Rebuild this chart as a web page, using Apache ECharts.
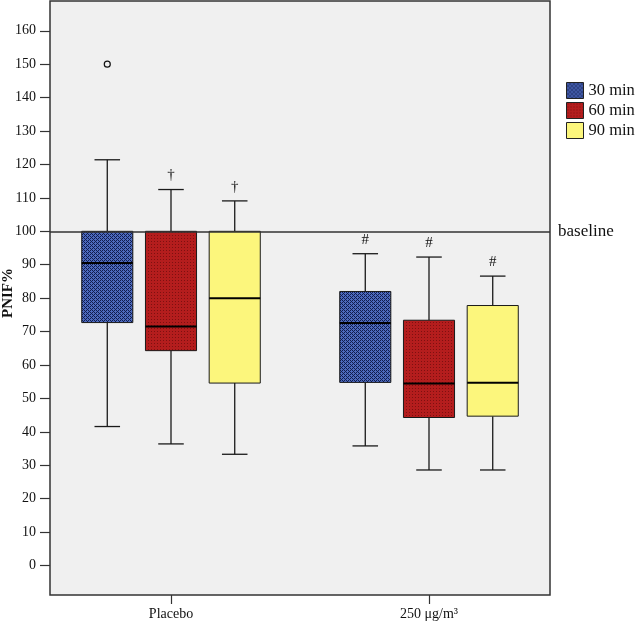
<!DOCTYPE html>
<html><head><meta charset="utf-8">
<script src="https://cdn.jsdelivr.net/npm/echarts@6/dist/echarts.min.js"></script>
<style>html,body{margin:0;padding:0;background:#fff}#c{width:638px;height:625px}</style>
</head><body><div id="c"></div>
<script>
// ---------- data ----------
const categories = ['Placebo', '250 μg/m³'];
const seriesNames = ['30 min', '60 min', '90 min'];
// each row: [min, Q1, median, Q3, max] for Placebo, 250 μg/m³
const box30 = [[41.6, 72.7, 90.5, 100, 121.4], [35.8, 54.8, 72.6, 82.0, 93.3]];
const box60 = [[36.4, 64.3, 71.5, 100, 112.5], [28.6, 44.3, 54.5, 73.4, 92.3]];
const box90 = [[33.3, 54.6, 80.0, 100, 109.1], [28.6, 44.7, 54.7, 77.8, 86.6]];
// outliers: [categoryIndex, seriesIndex, value]
const outliers = [[0, 0, 150]];
// significance marks above the whiskers
const marks30 = ['', '#'];
const marks60 = ['†', '#'];
const marks90 = ['†', '#'];
const yTicks = [0, 10, 20, 30, 40, 50, 60, 70, 80, 90, 100, 110, 120, 130, 140, 150, 160];
const xTicks = [0, 1];
const baselineValue = 100;

// ---------- styles ----------
const FONT = '"Liberation Serif", "Times New Roman", serif';
function makePattern(w, h, bg, fg, pts) {
  const cv = document.createElement('canvas');
  cv.width = w; cv.height = h;
  const ctx = cv.getContext('2d');
  ctx.fillStyle = bg; ctx.fillRect(0, 0, w, h);
  ctx.fillStyle = fg;
  pts.forEach(p => ctx.fillRect(p[0], p[1], 1, 1));
  return { image: cv, repeat: 'repeat' };
}
const bluePat = makePattern(4, 4, '#111d50', '#4d6abd',
  [[1,0],[0,1],[1,1],[2,1],[1,2],[3,3],[2,3],[0,3],[3,2],[3,0]]);
const redPat = makePattern(3, 3, '#b41d1d', '#7e1010', [[1,1]]);
const fills = [bluePat, redPat, '#fcf67c'];
const boxes = [box30, box60, box90];
const marks = [marks30, marks60, marks90];
const GROUP_OFFSET = 0.247;   // fraction of x unit between boxes
const BOX_HALF = 0.099;       // half box width, fraction of x unit

function renderBox(params, api) {
  const k = params.seriesIndex;
  const cat = api.value(0);
  const unit = api.size([1, 0])[0];
  const cx = api.coord([cat, 0])[0] + (k - 1) * GROUP_OFFSET * unit;
  const half = BOX_HALF * unit;
  const cap = half / 2;
  const py = i => api.coord([cat, api.value(i)])[1];
  const yMin = py(1), yQ1 = py(2), yMed = py(3), yQ3 = py(4), yMax = py(5);
  const ls = { stroke: '#1a1a1a', lineWidth: 1.3 };
  const children = [
    { type: 'line', shape: { x1: cx, y1: yMax, x2: cx, y2: yQ3 }, style: ls },
    { type: 'line', shape: { x1: cx, y1: yQ1, x2: cx, y2: yMin }, style: ls },
    { type: 'line', shape: { x1: cx - cap, y1: yMax, x2: cx + cap, y2: yMax }, style: ls },
    { type: 'line', shape: { x1: cx - cap, y1: yMin, x2: cx + cap, y2: yMin }, style: ls },
    { type: 'rect', shape: { x: cx - half, y: yQ3, width: 2 * half, height: yQ1 - yQ3 },
      style: { fill: fills[k], stroke: '#1a1a1a', lineWidth: 1 } },
    { type: 'line', shape: { x1: cx - half, y1: yMed, x2: cx + half, y2: yMed },
      style: { stroke: '#000', lineWidth: 2 } }
  ];
  const m = marks[k][params.dataIndex];
  if (m) {
    children.push({ type: 'text', style: { text: m, x: cx, y: yMax - 14, align: 'center',
      verticalAlign: 'middle', font: '15px ' + FONT, fill: '#111' } });
  }
  return { type: 'group', children };
}

function renderOutlier(params, api) {
  const cat = api.value(0), k = api.value(1);
  const unit = api.size([1, 0])[0];
  const p = api.coord([cat, api.value(2)]);
  return { type: 'circle', shape: { cx: p[0] + (k - 1) * GROUP_OFFSET * unit, cy: p[1], r: 3 },
    style: { fill: 'none', stroke: '#111', lineWidth: 1.2 } };
}

const series = boxes.map((b, k) => ({
  name: seriesNames[k],
  type: 'custom',
  renderItem: renderBox,
  itemStyle: { color: fills[k] },
  encode: { x: 0, y: [1, 2, 3, 4, 5] },
  data: b.map((row, i) => [i].concat(row)),
  z: 3
}));
series.push({
  name: 'outliers', type: 'custom', renderItem: renderOutlier,
  encode: { x: 0, y: 2 }, data: outliers, z: 4
});
series.push({
  name: 'baseline', type: 'line', data: [], z: 2,
  markLine: {
    silent: true, symbol: 'none', animation: false,
    data: [{ yAxis: baselineValue }],
    lineStyle: { color: '#333', width: 1.5, type: 'solid' },
    label: { position: 'end', formatter: 'baseline', fontFamily: FONT, fontSize: 17,
      color: '#111', distance: 8 }
  }
});

const chart = echarts.init(document.getElementById('c'));
chart.setOption({
  animation: false,
  backgroundColor: '#fff',
  grid: { left: 50, top: 1, right: 88, bottom: 30, show: true, containLabel: false,
    outerBoundsMode: 'none',
    backgroundColor: '#f0f0f0', borderColor: '#333', borderWidth: 1.5 },
  legend: {
    data: seriesNames, orient: 'vertical', left: 566, top: 82, padding: 0,
    itemWidth: 17, itemHeight: 16, itemGap: 3, icon: 'rect',
    textStyle: { fontFamily: FONT, fontSize: 16.5, color: '#111' },
    itemStyle: { borderColor: '#222', borderWidth: 1 }
  },
  xAxis: {
    type: 'value', min: -0.469, max: 1.469,
    splitLine: { show: false }, axisLine: { show: false, onZero: false },
    axisTick: { customValues: xTicks, length: 9, lineStyle: { color: '#333', width: 1.2 } },
    axisLabel: { customValues: xTicks, formatter: v => categories[Math.round(v)],
      margin: 12, fontFamily: FONT, fontSize: 14, color: '#111' }
  },
  yAxis: {
    type: 'value', min: -8.8, max: 168.9,
    name: 'PNIF%', nameLocation: 'middle', nameGap: 34, nameRotate: 90,
    nameMoveOverlap: false,
    nameTextStyle: { fontFamily: FONT, fontSize: 15, fontWeight: 'bold', color: '#111',
      padding: [0, 0, 0, 10] },
    splitLine: { show: false }, axisLine: { show: false, onZero: false },
    axisTick: { customValues: yTicks, length: 10, lineStyle: { color: '#333', width: 1.2 } },
    axisLabel: { customValues: yTicks, margin: 14, fontFamily: FONT, fontSize: 14, color: '#111' }
  },
  series
});
</script></body></html>
